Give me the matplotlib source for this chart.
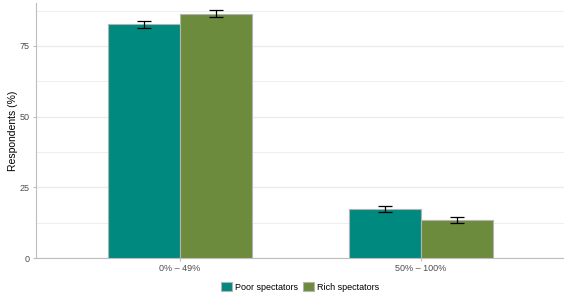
import matplotlib
matplotlib.use("Agg")
import matplotlib.pyplot as plt
import numpy as np
from matplotlib.patches import Patch

plt.rcParams['font.family'] = ['Liberation Sans', 'DejaVu Sans']

categories = ["0% – 49%", "50% – 100%"]
series_names = ["Poor spectators", "Rich spectators"]
poor = [82.6, 17.3]
poor_lo = [81.5, 16.2]
poor_hi = [83.7, 18.5]
rich = [86.4, 13.3]
rich_lo = [85.4, 12.3]
rich_hi = [87.6, 14.5]
colors = ["#00897F", "#6D8B3C"]
yticks = [0, 25, 50, 75]

fig = plt.figure(figsize=(5.64, 3.0), dpi=100)
ax = fig.add_axes([35.5/564, 42/300, 530/564, 255/300])

x = np.arange(1, len(categories) + 1)
w = 0.3
for i, (vals, lo, hi) in enumerate([(poor, poor_lo, poor_hi), (rich, rich_lo, rich_hi)]):
    pos = x + (i - 0.5) * w
    ax.bar(pos, vals, width=w, color=colors[i], edgecolor="#B3B3B3", linewidth=0.8, zorder=3)
    vals = np.array(vals); lo = np.array(lo); hi = np.array(hi)
    ax.errorbar(pos, vals, yerr=[vals - lo, hi - vals], fmt="none", ecolor="black",
                elinewidth=0.9, capsize=5, capthick=0.9, zorder=4)

ax.set_xlim(0.4, 2.6)
ax.set_ylim(0, 90.2)
ax.set_yticks(yticks)
ax.set_yticks([12.5, 37.5, 62.5, 87.5], minor=True)
ax.set_xticks(x)
ax.set_xticklabels(categories)
ax.grid(axis="y", which="major", color="#EBEBEB", linewidth=1.0, zorder=0)
ax.grid(axis="y", which="minor", color="#EBEBEB", linewidth=0.6, zorder=0)
ax.set_axisbelow(True)
for s in ["top", "right"]:
    ax.spines[s].set_visible(False)
for s in ["left", "bottom"]:
    ax.spines[s].set_color("#BDBDBD")
    ax.spines[s].set_linewidth(0.8)
ax.tick_params(axis="both", which="major", colors="#BDBDBD", labelcolor="#4D4D4D",
               labelsize=6.5, length=2.5, width=0.8, pad=2)
ax.tick_params(axis="y", which="minor", length=0)
ax.set_ylabel("Respondents (%)", fontsize=7.5, color="black")
ax.yaxis.set_label_coords(-18/530, 0.5)

handles = [Patch(facecolor=c, edgecolor="#B3B3B3", linewidth=0.8) for c in colors]
fig.legend(handles, series_names, loc="center", bbox_to_anchor=(300/564, 1 - 287/300),
           ncol=2, frameon=False, fontsize=6.5, handlelength=1.2, handleheight=1.2,
           handletextpad=0.4, columnspacing=0.5)

fig.savefig("out.png", dpi=100)
